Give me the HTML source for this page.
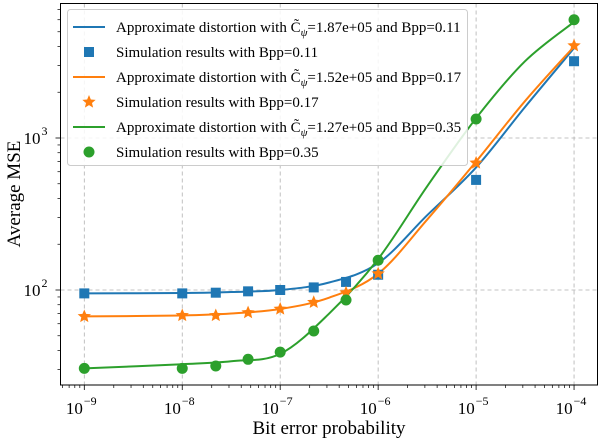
<!DOCTYPE html>
<html><head><meta charset="utf-8"><style>
body{margin:0;background:#fff}
svg{display:block;font-family:"Liberation Serif","DejaVu Serif",serif}
</style></head><body>
<svg id="chart" width="600" height="440" viewBox="0 0 600 440" xmlns="http://www.w3.org/2000/svg">
<rect x="0" y="0" width="600" height="440" fill="#fff"/>
<g id="grid"></g>
<g id="series"></g>
<rect x="60.5" y="3.5" width="537" height="381.5" fill="none" stroke="#000" stroke-width="1"/>
<g id="axes"></g>
<text x="329" y="434" font-size="19" text-anchor="middle">Bit error probability</text>
<text transform="translate(20,194) rotate(-90)" font-size="19" text-anchor="middle">Average MSE</text>
<g id="legend"></g>
</svg>
<script>
const simX = [1e-9, 1e-8, 2.2e-8, 4.7e-8, 1e-7, 2.2e-7, 4.7e-7, 1e-6, 1e-5, 1e-4];
const simBlue = [95, 95, 96, 98, 100, 104, 113, 126, 530, 3200];
const simOrange = [67, 68, 68, 71, 75, 83, 96, 128, 685, 4050];
const simGreen = [30.5, 30.5, 31.6, 35, 39, 53.7, 86, 157, 1334, 6000];
const curveX = [1e-9, 1e-8, 3.16e-8, 1e-7, 3.16e-7, 1e-6, 3.16e-6, 1e-5, 3.16e-5, 1e-4];
const curveBlue = [95, 95.5, 97, 100, 112, 150, 310, 640, 1600, 3900];
const curveOrange = [67, 68, 70, 75, 89, 128, 290, 700, 1750, 4000];
const curveGreen = [30.5, 32.5, 34, 38, 70, 160, 480, 1350, 3200, 5800];
const xTickExps = [-9, -8, -7, -6, -5, -4];
const yTickExps = [2, 3];
const legendLabels = ["Approximate distortion with C\u0303", "Simulation results with Bpp=0.11", "Approximate distortion with C\u0303", "Simulation results with Bpp=0.17", "Approximate distortion with C\u0303", "Simulation results with Bpp=0.35"];
const legendTails = ["=1.87e+05 and Bpp=0.11", "", "=1.52e+05 and Bpp=0.17", "", "=1.27e+05 and Bpp=0.35", ""];

const NS = "http://www.w3.org/2000/svg";
const L = 60.5, R = 597.5, T = 3.5, B = 385;
function xs(v){ return 84.3 + (Math.log10(v) + 9) * 97.95; }
function ys(v){ return 290 - (Math.log10(v) - 2) * 152; }
function mk(tag, attrs, parent){ const e = document.createElementNS(NS, tag); for (const k in attrs) e.setAttribute(k, attrs[k]); parent.appendChild(e); return e; }
const grid = document.getElementById('grid'), axes = document.getElementById('axes'), series = document.getElementById('series'), legend = document.getElementById('legend');

xTickExps.forEach(e => {
  const x = xs(Math.pow(10, e));
  const g = mk('line', {x1:x, x2:x, y1:T, y2:B, stroke:'#b0b0b0', 'stroke-width':0.8, 'stroke-dasharray':'4,3'}, grid);
  
  
  mk('line', {x1:x, x2:x, y1:B, y2:B+5, stroke:'#000', 'stroke-width':0.8}, axes);
  const t = mk('text', {x:x-3, y:B+29, 'font-size':17, 'text-anchor':'middle'}, axes);
  
  
  t.textContent = '10';
  const s = mk('tspan', {dx:1, dy:-9, 'font-size':12}, t);
  s.textContent = '\u2212' + Math.abs(e);
});
for (let e = -10; e <= -4; e++) for (let m = 2; m <= 9; m++) {
  const x = xs(m * Math.pow(10, e));
  if (x > L && x < R) mk('line', {x1:x, x2:x, y1:B, y2:B+3, stroke:'#000', 'stroke-width':0.7}, axes);
}
yTickExps.forEach(e => {
  const y = ys(Math.pow(10, e));
  const g = mk('line', {x1:L, x2:R, y1:y, y2:y, stroke:'#b0b0b0', 'stroke-width':0.8, 'stroke-dasharray':'4,3'}, grid);
  
  
  mk('line', {x1:L-5, x2:L, y1:y, y2:y, stroke:'#000', 'stroke-width':0.8}, axes);
  const t = mk('text', {x:L-25, y:y+6, 'font-size':17, 'text-anchor':'middle'}, axes);
  
  
  t.textContent = '10';
  const s = mk('tspan', {dx:1, dy:-9, 'font-size':12}, t);
  s.textContent = String(e);
});
for (let e = 1; e <= 3; e++) for (let m = 2; m <= 9; m++) {
  const y = ys(m * Math.pow(10, e));
  if (y > T && y < B) mk('line', {x1:L-3, x2:L, y1:y, y2:y, stroke:'#000', 'stroke-width':0.7}, axes);
}

function curvePath(xa, ya){
  const p = xa.map((x, i) => [xs(x), ys(ya[i])]);
  let d = 'M' + p[0][0] + ',' + p[0][1];
  for (let i = 0; i < p.length - 1; i++) {
    const p0 = p[Math.max(0, i-1)], p1 = p[i], p2 = p[i+1], p3 = p[Math.min(p.length-1, i+2)];
    const c1 = [p1[0] + (p2[0]-p0[0])/6, p1[1] + (p2[1]-p0[1])/6];
    const c2 = [p2[0] - (p3[0]-p1[0])/6, p2[1] - (p3[1]-p1[1])/6];
    d += ' C' + c1[0] + ',' + c1[1] + ' ' + c2[0] + ',' + c2[1] + ' ' + p2[0] + ',' + p2[1];
  }
  return d;
}
function star(cx, cy, r){
  let pts = [];
  for (let k = 0; k < 10; k++) { const a = -Math.PI/2 + k*Math.PI/5; const rr = k%2 ? r*0.45 : r; pts.push((cx+rr*Math.cos(a)).toFixed(2)+','+(cy+rr*Math.sin(a)).toFixed(2)); }
  return pts.join(' ');
}
function marker(type, cx, cy, color, parent){
  if (type === 'sq') return mk('rect', {x:cx-5, y:cy-5, width:10, height:10, fill:color}, parent);
  if (type === 'star') return mk('polygon', {points:star(cx, cy, 7), fill:color}, parent);
  return mk('circle', {cx:cx, cy:cy, r:5.5, fill:color}, parent);
}
const defs = [
  {c:'#1f77b4', curve:curveBlue, sim:simBlue, m:'sq', n:'blue'},
  {c:'#ff7f0e', curve:curveOrange, sim:simOrange, m:'star', n:'orange'},
  {c:'#2ca02c', curve:curveGreen, sim:simGreen, m:'circle', n:'green'}
];
defs.forEach(s => {
  const p = mk('path', {d:curvePath(curveX, s.curve), fill:'none', stroke:s.c, 'stroke-width':2}, series);
  
  
});
defs.forEach(s => {
  simX.forEach((x, i) => {
    const m = marker(s.m, xs(x), ys(s.sim[i]), s.c, series);
    
    
  });
});

const box = mk('rect', {x:67.5, y:9.5, width:400, height:156, rx:3, fill:'#fff', 'fill-opacity':0.85, stroke:'#cccccc', 'stroke-width':1}, legend);


legendLabels.forEach((lab, i) => {
  const y = 27 + i * 25;
  const s = defs[Math.floor(i/2)];
  if (i % 2 === 0) mk('line', {x1:73, x2:105, y1:y, y2:y, stroke:s.c, 'stroke-width':2}, legend);
  else marker(s.m, 89, y, s.c, legend);
  const t = mk('text', {x:116, y:y+5, 'font-size':15}, legend);
  
  
  t.textContent = lab;
  if (legendTails[i]) {
    const sub = mk('tspan', {dy:4, 'font-size':11, 'font-style':'italic'}, t);
    sub.textContent = '\u03C8';
    const tail = mk('tspan', {dy:-4}, t);
    tail.textContent = legendTails[i];
  }
});
</script>
</body></html>
